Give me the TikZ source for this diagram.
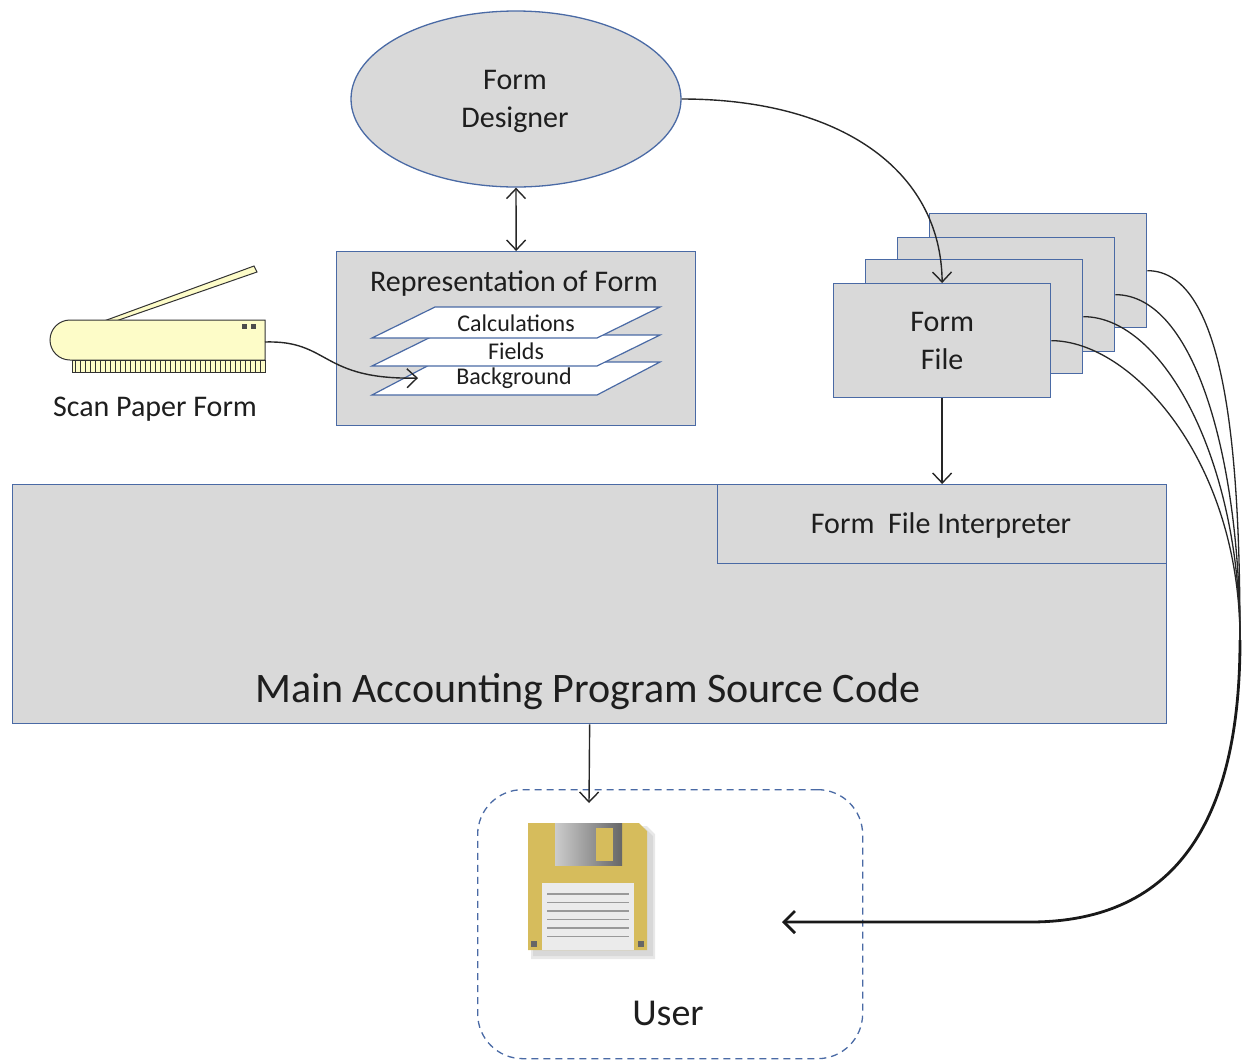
\documentclass[tikz,border=0pt]{standalone}
\usepackage{fontspec}
\setmainfont{Carlito}
\usetikzlibrary{arrows.meta,shapes.geometric,calc}
\definecolor{boxg}{RGB}{217,217,217}
\definecolor{bordc}{RGB}{74,106,165}
\definecolor{txtc}{RGB}{30,30,30}
\definecolor{scanc}{RGB}{253,252,200}
\definecolor{goldc}{RGB}{214,188,92}
\begin{document}
\begin{tikzpicture}[x=1pt,y=1pt,
  box/.style={draw=bordc, fill=boxg, line width=1.3pt, inner sep=0pt},
  para/.style={draw=bordc, fill=white, line width=1.2pt},
  lbl/.style={text=txtc, font=\fontsize{30}{38}\selectfont, align=center, inner sep=0pt},
  small/.style={text=txtc, font=\fontsize{24}{28}\selectfont, inner sep=0pt},
  conn/.style={draw=black!85, line width=1.4pt, -{Straight Barb[length=10pt,width=19pt]}},
  dconn/.style={draw=black!85, line width=1.4pt, {Straight Barb[length=10pt,width=19pt]}-{Straight Barb[length=10pt,width=19pt]}},
  fanline/.style={draw=black!85, line width=1.3pt}
]
\useasboundingbox (0,0) rectangle (1244,-1061);

% Form Designer
\node[box, ellipse, minimum width=330, minimum height=176] (fd) at (516,-99) {};
\node[lbl] (fdtxt) at (515,-101) {Form\\Designer};

% Representation of Form
\node[box, minimum width=359, minimum height=174, anchor=north west] (rep) at (336,-251) {};
\node[lbl] (reptitle) at (514,-284) {Representation of Form};
\draw[para] (372,-395) -- (597,-395) -- (660,-362) -- (435,-362) -- cycle;
\draw[para] (372,-366) -- (597,-366) -- (660,-335) -- (435,-335) -- cycle;
\draw[para] (372,-338) -- (597,-338) -- (660,-307) -- (435,-307) -- cycle;
\node[small] (calc) at (516,-323) {Calculations};
\node[small] (fields) at (516,-351) {Fields};
\node[small] (bg) at (514,-378) {Background};
\coordinate (bgin) at (418,-378);

\draw[dconn] (fd.south) -- (rep.north);

% Scanner
\draw[fill=scanc, draw=black!80, line width=1pt] (104,-321) -- (254,-266) -- (257,-272) -- (116,-321) -- cycle;
\draw[fill=scanc, draw=black!80, line width=1pt] (70,-320) -- (265,-320) -- (265,-360) -- (70,-360) arc[start angle=270, end angle=90, radius=20] -- cycle;
\fill[black!70] (242,-324) rectangle (247,-329);
\fill[black!70] (251,-324) rectangle (256,-329);
\draw[fill=scanc, draw=black!80, line width=1pt] (72,-360) rectangle (265,-372);
\foreach \i in {0,...,37} { \draw[black!80, line width=0.8pt] ({75+5*\i},-360) -- ({75+5*\i},-372); }
\node[lbl] (scanlbl) at (155,-409) {Scan Paper Form};
\coordinate (scanout) at (265,-342);
\draw[conn] (scanout) .. controls (330,-340) and (320,-380) .. (bgin);

% Form File stack
\node[box, minimum width=217, minimum height=114, anchor=north west] (ff4) at (929,-213) {};
\node[box, minimum width=217, minimum height=114, anchor=north west] (ff3) at (897,-237) {};
\node[box, minimum width=217, minimum height=114, anchor=north west] (ff2) at (865,-259) {};
\node[box, minimum width=217, minimum height=114, anchor=north west, lbl] (ff1) at (833,-283) {Form\\File};

\draw[conn] (fd.east) .. controls (840,-99) and (941,-170) .. (ff1.north);

% Main box and interpreter
\node[box, minimum width=1154, minimum height=239, anchor=north west] (main) at (12,-484) {};
\node[box, minimum width=449, minimum height=79, anchor=north west] (interp) at (717,-484) {};
\node[lbl] (interptxt) at (941,-525) {Form\ \ File Interpreter};
\node[text=txtc, font=\fontsize{42}{48}\selectfont, inner sep=0pt] (maintxt) at (588,-692) {Main Accounting Program Source Code};

\draw[conn] (ff1.south) -- (interp.north);

% User
\node[draw=bordc, dashed, dash pattern=on 7pt off 5pt, rounded corners=45, line width=1.3pt, minimum width=385, minimum height=269, anchor=north west] (user) at (477,-789) {};
\node[text=txtc, font=\fontsize{38}{44}\selectfont, inner sep=0pt] (usertxt) at (668,-1013) {User};
\coordinate (uin) at (589,-803);
\draw[conn] (main.south) -- (uin);

% Floppy icon
\fill[black!25, opacity=0.6] (533,-828) -- (645,-828) -- (653,-836) -- (653,-956) -- (533,-956) -- cycle;
\fill[black!15, opacity=0.6] (531,-826) -- (647,-826) -- (655,-834) -- (655,-959) -- (531,-959) -- cycle;
\fill[goldc] (528,-823) -- (639,-823) -- (647,-831) -- (647,-950) -- (528,-950) -- cycle;
\shade[left color=black!20, right color=black!60] (555,-823) rectangle (622,-865);
\fill[goldc] (596,-828) rectangle (613,-861);
\fill[black!8] (542,-883) rectangle (634,-950);
\foreach \yy in {894,902.5,911,919.5,928,936.5} { \draw[black!40, line width=1.4pt] (547,-\yy) -- (629,-\yy); }
\fill[black!60] (531,-941) rectangle (537,-947);
\fill[black!60] (638,-941) rectangle (644,-947);

% Fan of curves
\coordinate (merge) at (1240,-640);
\coordinate (uright) at (782,-922);
\foreach \n in {ff1,ff2,ff3,ff4} {
  \draw[fanline] (\n.east) .. controls ($(\n.east)+(80,0)$) and (1240,-460) .. (merge);
}
\draw[draw=black!90, line width=2.8pt, -{Straight Barb[length=11pt,width=22pt]}] (merge) .. controls (1240,-800) and (1190,-922) .. (1030,-922) -- (uright);
\end{tikzpicture}
\end{document}
